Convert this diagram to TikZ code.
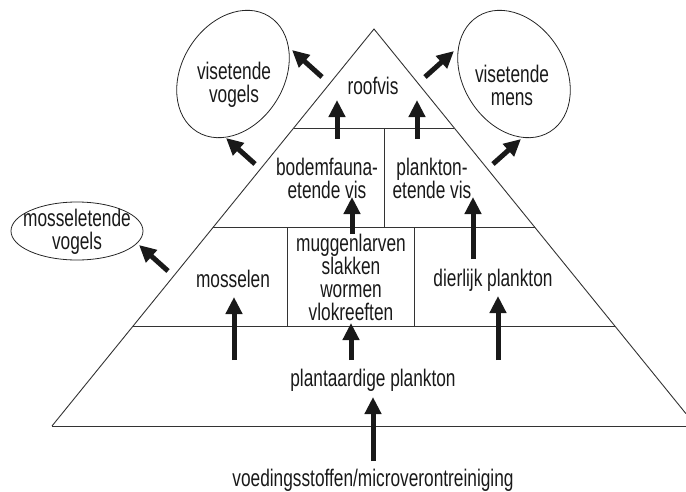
\documentclass[tikz,border=0pt]{standalone}
\usepackage{fontspec}
\setmainfont{Liberation Sans}[FakeStretch=0.72]
\usetikzlibrary{arrows.meta,calc}
\begin{document}
\begin{tikzpicture}[x=1pt,y=-1pt,
  lbl/.style={inner sep=0pt,align=center,text=black!90,font=\fontsize{24}{23}\selectfont},
  thin/.style={line width=0.9pt,draw=black!80},
  big/.style={line width=5pt,draw=black!90,-{Triangle[length=17pt,width=16pt]},shorten >=0pt},
  oval/.style={line width=0.8pt,draw=black!85}]
\path[use as bounding box] (0,0) rectangle (686,491);
% triangle
\coordinate (apex) at (374,29);
\coordinate (bl) at (52,426);
\coordinate (rc) at (686,413.7);
\coordinate (br) at (686,426);
\draw[thin] (bl) -- (apex) -- (rc);
\draw[thin] (bl) -- (br);
% horizontal layers
\coordinate (l1a) at (293.7,128); \coordinate (l1b) at (454.3,128);
\coordinate (l2a) at (213.4,227); \coordinate (l2b) at (534.6,227);
\coordinate (l3a) at (133,326);   \coordinate (l3b) at (615,326);
\draw[thin] (l1a) -- (l1b);
\draw[thin] (l2a) -- (l2b);
\draw[thin] (l3a) -- (l3b);
\coordinate (d1) at (384.5,128); \coordinate (d2) at (384.5,227);
\draw[thin] (d1) -- (d2);
\coordinate (bx1) at (287,227); \coordinate (bx2) at (414,326);
\draw[thin] (bx1) rectangle (bx2);
% ellipses
\draw[oval,rotate around={58:(233,74)}] (233,74) ellipse [x radius=68pt,y radius=51pt];
\draw[oval,rotate around={-58:(514,74)}] (514,74) ellipse [x radius=68pt,y radius=51pt];
\draw[oval] (77,231) ellipse [x radius=66pt,y radius=29pt];
% texts
\node[lbl] (roofvis) at (373,86) {roofvis};
\node[lbl] (bodem) at (327,178) {bodemfauna-\\etende vis};
\node[lbl] (plankt) at (432,178) {plankton-\\etende vis};
\node[lbl] (mossel) at (233,279) {mosselen};
\node[lbl] (mugg) at (351,277) {muggenlarven\\slakken\\wormen\\vlokreeften};
\node[lbl] (dier) at (493,280) {dierlijk plankton};
\node[lbl] (plant) at (373,380) {plantaardige plankton};
\node[lbl] (voed) at (373,480) {voedingsstoffen/microverontreiniging};
\node[lbl] (visv) at (234,85) {visetende\\vogels};
\node[lbl] (vism) at (512,85) {visetende\\mens};
\node[lbl] (mosv) at (77,232) {mosseletende\\vogels};
% arrow ends
\coordinate (a1s) at (337,139); \coordinate (a1e) at (337,100);
\coordinate (a2s) at (417,139); \coordinate (a2e) at (417,100);
\coordinate (a3s) at (322,77);  \coordinate (a3e) at (292,50);
\coordinate (a4s) at (425,77);  \coordinate (a4e) at (454,51);
\coordinate (a5s) at (255,164); \coordinate (a5e) at (226,138);
\coordinate (a6s) at (493,164); \coordinate (a6e) at (521,139);
\coordinate (a7s) at (352,234); \coordinate (a7e) at (352,197);
\coordinate (a8s) at (473,259); \coordinate (a8e) at (473,197);
\coordinate (a9s) at (168,271); \coordinate (a9e) at (139,245);
\coordinate (a10s) at (234,360); \coordinate (a10e) at (234,297);
\coordinate (a11s) at (351,360); \coordinate (a11e) at (351,323);
\coordinate (a12s) at (498,360); \coordinate (a12e) at (498,296);
\coordinate (a13s) at (373,461); \coordinate (a13e) at (373,397);
\foreach \i in {1,...,13} {\draw[big] (a\i s) -- (a\i e);}
\end{tikzpicture}
\end{document}
